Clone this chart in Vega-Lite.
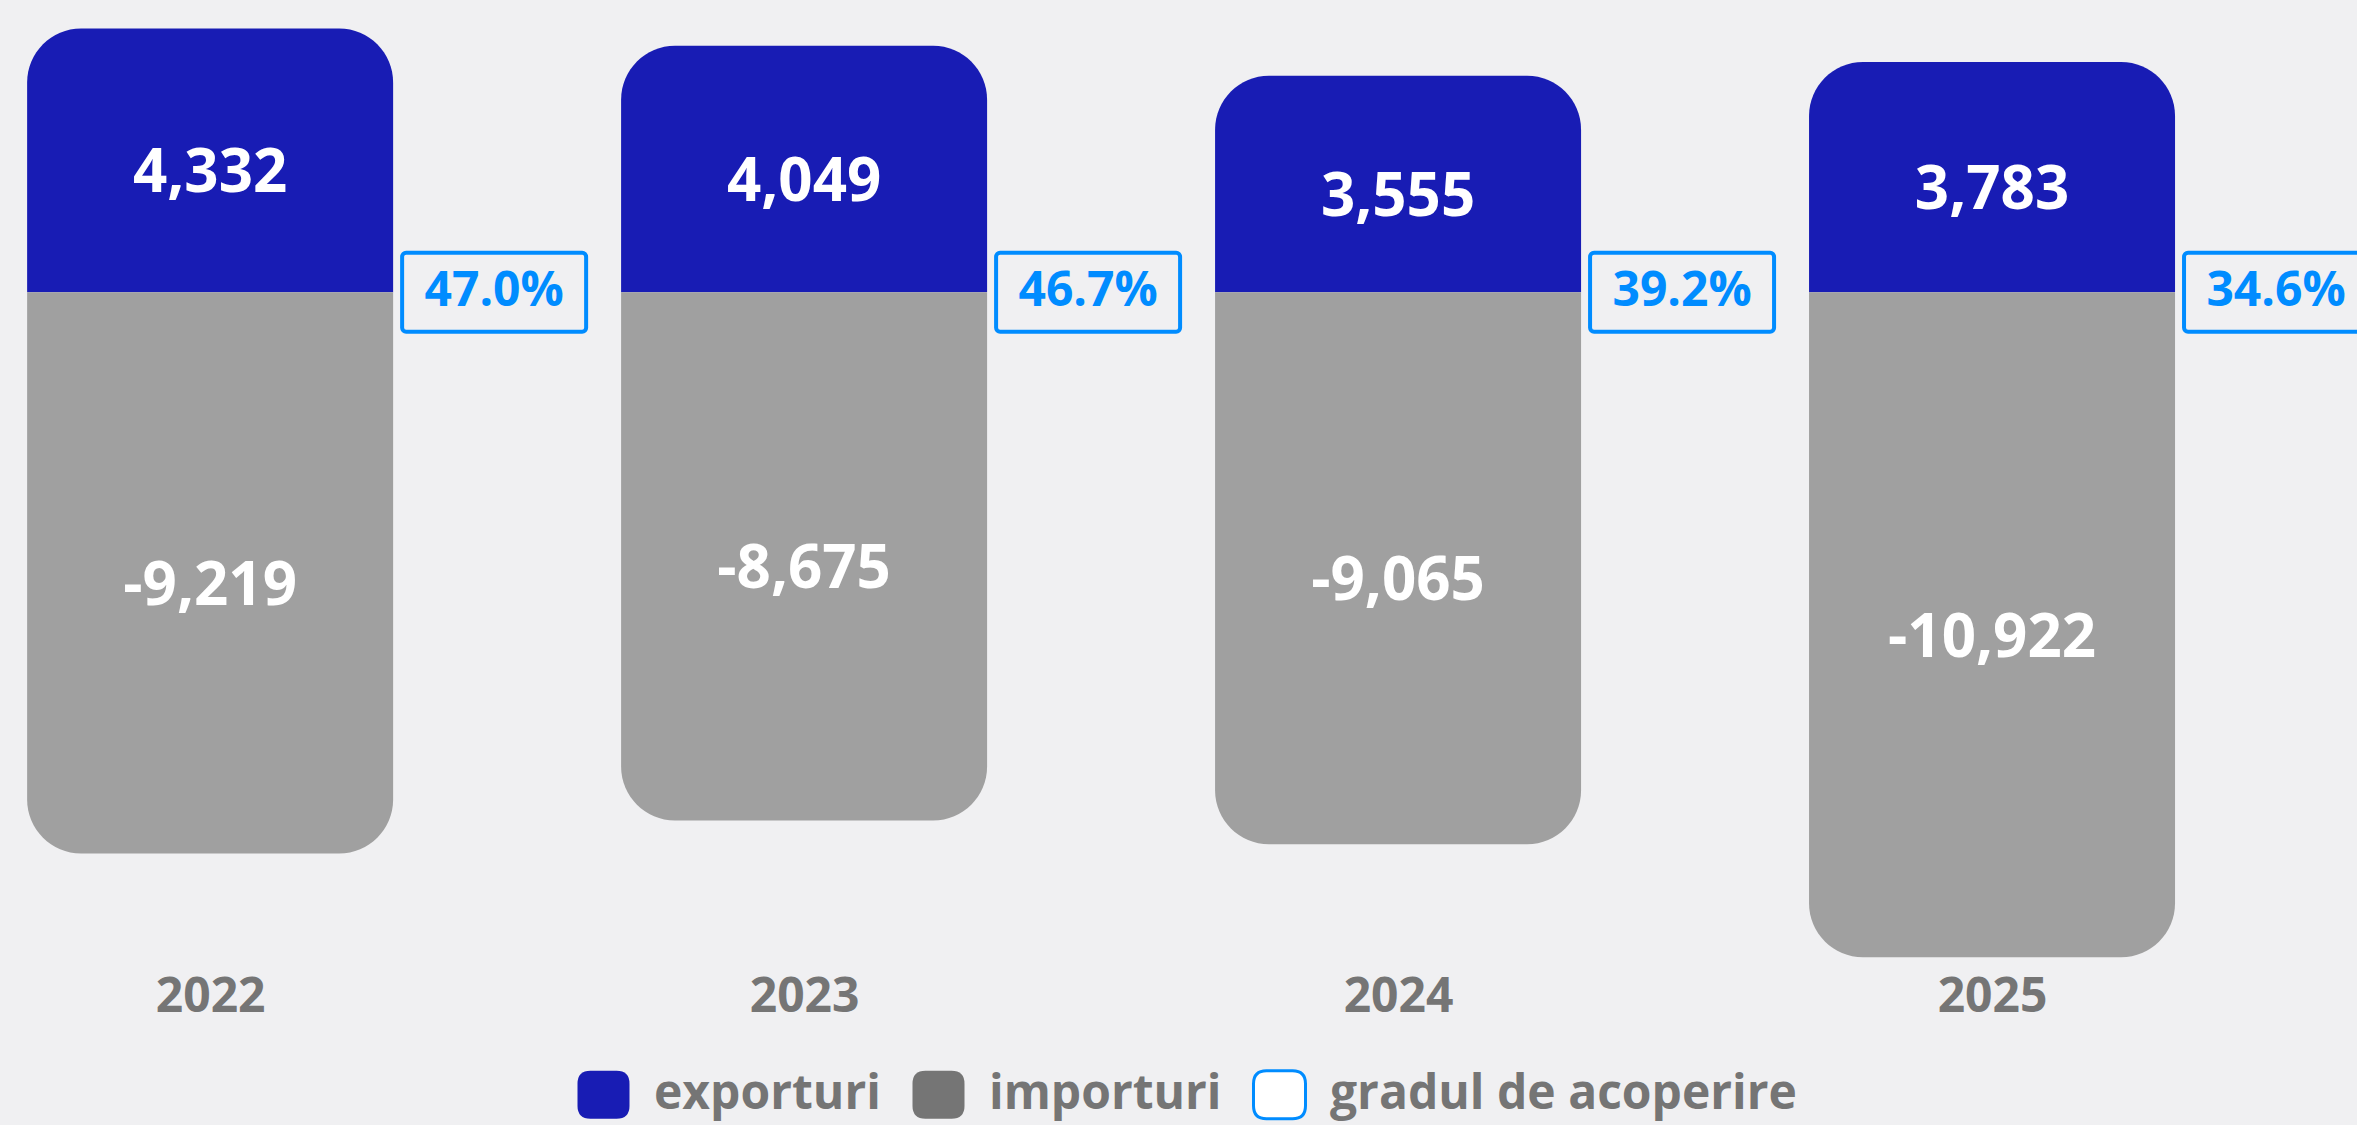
{
  "$schema": "https://vega.github.io/schema/vega-lite/v6.json",
  "width": 2357,
  "height": 962,
  "autosize": "none",
  "padding": {"left": 0, "top": 0, "right": 0, "bottom": 163},
  "background": "#F0F0F2",
  "datasets": {
    "trade": [
      {"year": 2022, "series": "exporturi", "value": 4332},
      {"year": 2022, "series": "importuri", "value": -9219},
      {"year": 2023, "series": "exporturi", "value": 4049},
      {"year": 2023, "series": "importuri", "value": -8675},
      {"year": 2024, "series": "exporturi", "value": 3555},
      {"year": 2024, "series": "importuri", "value": -9065},
      {"year": 2025, "series": "exporturi", "value": 3783},
      {"year": 2025, "series": "importuri", "value": -10922}
    ],
    "coverage": [
      {"year": 2022, "pct": 0.470},
      {"year": 2023, "pct": 0.467},
      {"year": 2024, "pct": 0.392},
      {"year": 2025, "pct": 0.346}
    ]
  },
  "config": {
    "view": {"stroke": null},
    "font": "Open Sans",
    "locale": {"number": {"decimal": ".", "thousands": ",", "grouping": [3], "currency": ["", ""], "minus": "-"}}
  },
  "encoding": {
    "x": {
      "field": "year",
      "type": "quantitative",
      "scale": {"domain": [2021.65465, 2025.60603], "nice": false, "zero": false},
      "axis": {
        "values": [2022, 2023, 2024, 2025],
        "format": "d",
        "domain": false,
        "ticks": false,
        "tickSize": 0,
        "grid": false,
        "title": null,
        "labelFont": "Open Sans",
        "labelFontSize": 48,
        "labelFontWeight": "bold",
        "labelColor": "#757575",
        "labelPadding": 11,
        "labelFlush": false,
        "labelOverlap": false,
        "labelLimit": 500
      }
    }
  },
  "layer": [
    {
      "data": {"name": "trade"},
      "transform": [{"filter": "datum.series === 'exporturi'"}],
      "mark": {"type": "bar", "width": 366, "cornerRadiusTopLeft": 54, "cornerRadiusTopRight": 54},
      "encoding": {
        "y": {"field": "value", "type": "quantitative", "scale": {"domain": [-11000, 4800], "nice": false, "zero": false}, "axis": null},
        "y2": {"datum": 0},
        "color": {
          "field": "series",
          "type": "nominal",
          "scale": {"domain": ["exporturi", "importuri", "gradul de acoperire"], "range": ["#181CB4", "#757575", "#FFFFFF"]},
          "legend": {
            "title": null,
            "orient": "none",
            "legendX": 576,
            "legendY": 1067,
            "direction": "horizontal",
            "columns": 3,
            "padding": 0,
            "symbolType": "M-0.5,-0.92H0.5Q1,-0.92 1,-0.42V0.42Q1,0.92 0.5,0.92H-0.5Q-1,0.92 -1,0.42V-0.42Q-1,-0.92 -0.5,-0.92Z",
            "symbolSize": 2704,
            "symbolStrokeWidth": 3,
            "labelFont": "Open Sans",
            "labelFontSize": 48,
            "labelFontWeight": "bold",
            "labelColor": "#757575",
            "labelOffset": 23,
            "labelLimit": 1000,
            "columnPadding": 25,
            "encode": {
              "symbols": {
                "update": {
                  "stroke": {"signal": "datum.value === 'gradul de acoperire' ? '#008CFF' : 'transparent'"},
                  "strokeWidth": {"value": 3},
                  "opacity": {"value": 1}
                }
              }
            }
          }
        }
      }
    },
    {
      "data": {"name": "trade"},
      "transform": [{"filter": "datum.series === 'importuri'"}],
      "mark": {"type": "bar", "width": 366, "fill": "#A0A0A0", "cornerRadiusBottomLeft": 54, "cornerRadiusBottomRight": 54},
      "encoding": {
        "y": {"field": "value", "type": "quantitative", "scale": {"domain": [-11000, 4800], "nice": false, "zero": false}, "axis": null},
        "y2": {"datum": 0}
      }
    },
    {
      "data": {"name": "trade"},
      "transform": [{"calculate": "datum.value / 2", "as": "mid"}],
      "mark": {"type": "text", "color": "#FFFFFF", "fontSize": 60, "fontWeight": "bold", "font": "Open Sans", "baseline": "middle", "align": "center", "dy": 14},
      "encoding": {
        "y": {"field": "mid", "type": "quantitative"},
        "text": {"field": "value", "type": "quantitative", "format": ",d"}
      }
    },
    {
      "data": {"name": "coverage"},
      "mark": {"type": "bar", "width": 184, "xOffset": 284, "fill": "#F0F0F2", "stroke": "#008CFF", "strokeWidth": 4, "cornerRadius": 4},
      "encoding": {
        "y": {"datum": 650, "type": "quantitative"},
        "y2": {"datum": -650}
      }
    },
    {
      "data": {"name": "coverage"},
      "mark": {"type": "text", "color": "#008CFF", "fontSize": 48, "fontWeight": "bold", "font": "Open Sans", "baseline": "middle", "align": "center", "dx": 284},
      "encoding": {
        "y": {"datum": 0, "type": "quantitative"},
        "text": {"field": "pct", "type": "quantitative", "format": ".1%"}
      }
    }
  ]
}
